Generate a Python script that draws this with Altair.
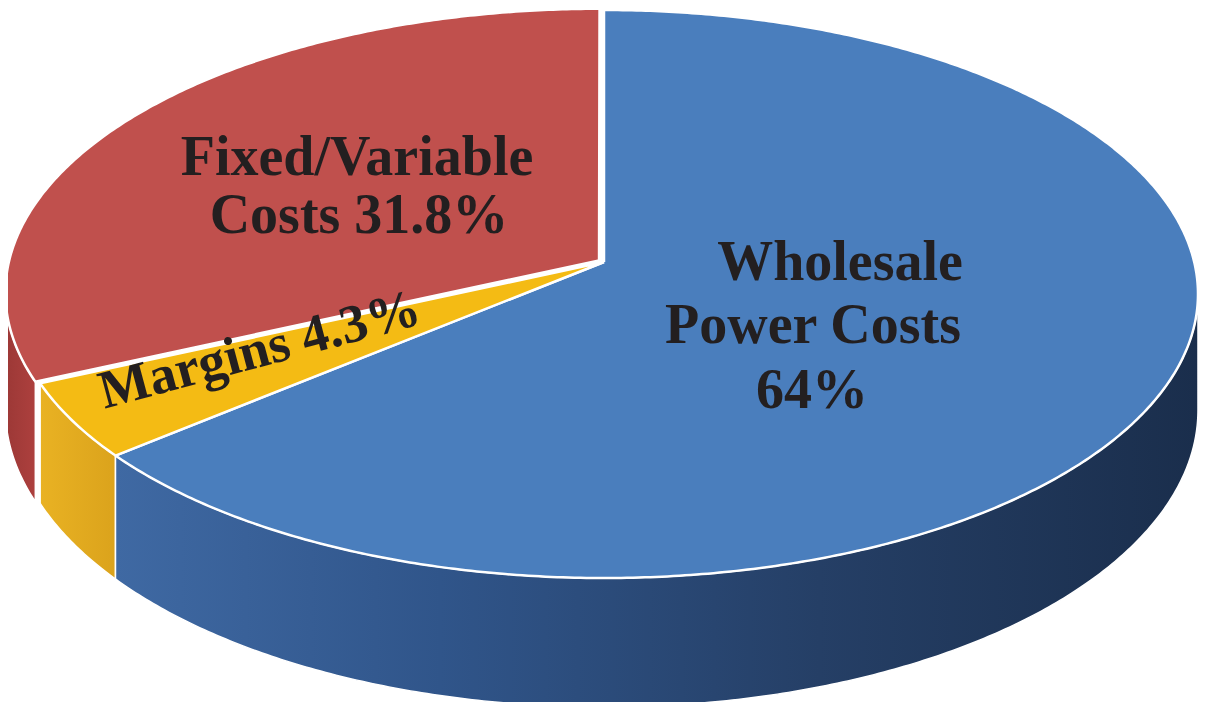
import numpy as np
import pandas as pd
import altair as alt

# ---- data ----
categories = ["Wholesale Power Costs", "Margins", "Fixed/Variable Costs"]
values = [64.0, 4.3, 31.8]
explode = [0.0, 0.0, 0.010]
top_colors = ["#4a7ebd", "#f4bb14", "#c0504d"]
wall_stops = [
    [("#3f69a3", 0.0), ("#30558a", 0.3), ("#253f66", 0.65), ("#1a2e4c", 1.0)],
    [("#e9b223", 0.0), ("#dba31c", 1.0)],
    [("#9c3836", 0.0), ("#ad403e", 1.0)],
]
label_lines = [
    ("Fixed/Variable", 349, 167, 56, 0),
    ("Costs 31.8%", 351, 225, 56, 0),
    ("Wholesale", 832, 272, 56, 0),
    ("Power Costs", 805, 335, 56, 0),
    ("64%", 804, 400, 56, 0),
    ("Margins 4.3%", 256, 358, 54, 345),
]

# ---- perspective pie geometry (layout constants) ----
W, H = 1190, 694
CX, CY = 596.0, 254.0      # projected centre of the pie
A, B = 590.2, 280.4        # half-width / half-depth of the top disc
S = 0.1127                 # perspective strength
D = 114.5                  # wall thickness
VIS_L, VIS_R = 360 - np.degrees(np.arccos(-S)), np.degrees(np.arccos(-S))


def proj(u, v, z, du=0.0, dv=0.0):
    u = u + du
    v = v + dv
    w = 1 - S * v
    return CX + A * u / w, CY + (B * v + D * z) / w


total = sum(values)
bounds = np.concatenate([[0], np.cumsum(values)]) / total * 360.0

top_rows = []
wall_rows = {}
for i, cat in enumerate(categories):
    a0, a1 = bounds[i], bounds[i + 1]
    mid = np.radians((a0 + a1) / 2)
    du, dv = explode[i] * np.sin(mid), -explode[i] * np.cos(mid)
    angs = np.radians(np.linspace(a0, a1, max(2, int((a1 - a0) * 2))))
    pts = [proj(0, 0, 0, du, dv)]
    pts += [proj(np.sin(t), -np.cos(t), 0, du, dv) for t in angs]
    pts.append(pts[0])
    for k, (x, y) in enumerate(pts):
        top_rows.append({"cat": cat, "part": f"top{i}", "order": k, "x": x, "y": y})
    # visible front wall
    w0, w1 = max(a0, VIS_R), min(a1, VIS_L)
    if w0 < w1:
        wa = np.radians(np.linspace(w0, w1, max(2, int((w1 - w0) * 2))))
        wp = [proj(np.sin(t), -np.cos(t), 0, du, dv) for t in wa]
        wp += [proj(np.sin(t), -np.cos(t), 1, du, dv) for t in wa[::-1]]
        wp.append(wp[0])
        wall_rows[i] = pd.DataFrame(
            [{"cat": cat, "part": f"wall{i}", "order": k, "x": x, "y": y}
             for k, (x, y) in enumerate(wp)])

top_df = pd.DataFrame(top_rows)

xs = alt.X("x:Q", scale=alt.Scale(domain=[0, W], nice=False, zero=False), axis=None)
ys = alt.Y("y:Q", scale=alt.Scale(domain=[0, H], nice=False, zero=False, reverse=True), axis=None)

layers = []
for i in [2, 1, 0]:
    if i not in wall_rows:
        continue
    grad = alt.Gradient(
        gradient="linear", x1=0, x2=1, y1=0, y2=0,
        stops=[alt.GradientStop(color=c, offset=o) for c, o in wall_stops[i]],
    )
    layers.append(
        alt.Chart(wall_rows[i]).mark_line(
            filled=True, fill=grad, stroke="white", strokeWidth=1.5, strokeJoin="round"
        ).encode(x=xs, y=ys, order="order:Q", detail="part:N")
    )

layers.append(
    alt.Chart(top_df).mark_line(
        filled=True, stroke="white", strokeWidth=2.5, strokeJoin="round"
    ).encode(
        x=xs, y=ys, order="order:Q", detail="part:N",
        color=alt.Color("cat:N", scale=alt.Scale(domain=categories, range=top_colors), legend=None),
    )
)

for txt, lx, ly, size, ang in label_lines:
    layers.append(
        alt.Chart(pd.DataFrame({"t": [txt]})).mark_text(
            font="Liberation Serif", fontWeight="bold", fontSize=size,
            color="#231f20", align="center", baseline="alphabetic", angle=ang,
        ).encode(text="t:N", x=alt.value(lx), y=alt.value(ly))
    )

chart = alt.layer(*layers).properties(
    width=W, height=H, padding=0, autosize=alt.AutoSizeParams(type="none"),
    background="white",
).configure_view(stroke=None)

chart.save("out.html", embed_options={"renderer": "svg", "actions": False})
